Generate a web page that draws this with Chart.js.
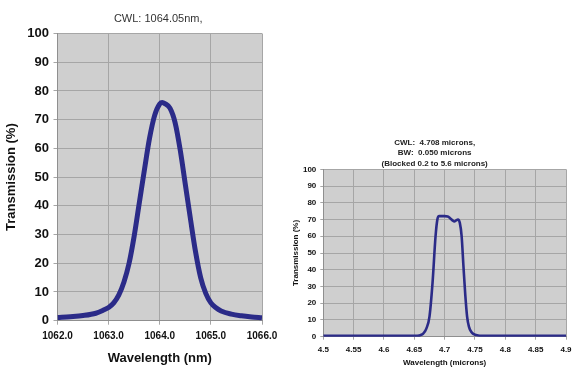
<!DOCTYPE html>
<html><head><meta charset="utf-8">
<script src="https://cdn.jsdelivr.net/npm/chart.js@4/dist/chart.umd.min.js"></script>
<style>
html,body{margin:0;padding:0;background:#fff;width:583px;height:382px;overflow:hidden;}
.box{position:absolute;}
</style></head><body>
<div class="box" style="left:0;top:0;width:290px;height:382px;"><canvas id="c1"></canvas></div>
<div class="box" style="left:290px;top:120px;width:293px;height:262px;"><canvas id="c2"></canvas></div>
<script>
// ---- Left chart data (1064 nm filter) ----
const leftTitle = ["CWL: 1064.05nm,"];
const leftWavelength = [1062.0,1062.25,1062.5,1062.75,1062.9,1063.0,1063.1,1063.2,1063.3,1063.4,1063.5,1063.6,1063.7,1063.8,1063.9,1064.0,1064.05,1064.1,1064.2,1064.3,1064.4,1064.5,1064.6,1064.7,1064.8,1064.9,1065.0,1065.1,1065.2,1065.4,1065.6,1065.8,1066.0];
const leftTransmission = [1.1,1.4,1.8,2.6,3.7,4.6,6.2,9.0,13.5,20.0,29.5,41.0,52.5,63.5,71.5,75.5,76.0,75.6,74.0,69.0,59.5,47.5,35.5,24.0,15.0,9.5,6.2,4.5,3.4,2.3,1.7,1.3,1.0];
const leftXTicks = [1062,1063,1064,1065,1066];

// ---- Right chart data (4.708 micron filter) ----
const rightTitle = ["CWL:  4.708 microns,", "BW:  0.050 microns", "(Blocked 0.2 to 5.6 microns)"];
const rightWavelength = [4.50,4.55,4.60,4.64,4.655,4.660,4.665,4.670,4.675,4.680,4.685,4.688,4.691,4.695,4.700,4.705,4.709,4.713,4.716,4.719,4.722,4.725,4.728,4.731,4.734,4.737,4.740,4.744,4.748,4.752,4.758,4.77,4.80,4.85,4.90];
const rightTransmission = [0.5,0.5,0.5,0.5,0.6,0.9,2.0,5.0,12.0,32.0,60.0,70.0,72.0,72.0,72.0,71.8,70.8,69.5,68.8,69.5,70.0,68.0,60.0,42.0,25.0,12.0,6.0,2.8,1.5,1.0,0.6,0.5,0.5,0.5,0.5];
const rightXTicks = [4.5,4.55,4.6,4.65,4.7,4.75,4.8,4.85,4.9];

const F = "'Liberation Sans', Arial, sans-serif";
const PLOT_BG = '#cfcfcf';
const GRID = '#a6a6a6';
const LINE = '#2b2b88';

const bgPlugin = {
  id: 'plotBg',
  beforeDraw(chart) {
    const {ctx, chartArea: a} = chart;
    ctx.save(); ctx.fillStyle = PLOT_BG;
    ctx.fillRect(a.left, a.top, a.right - a.left, a.bottom - a.top);
    ctx.restore();
  },
  afterDraw(chart, args, opts) {
    const {ctx, chartArea: a} = chart;
    ctx.save();
    ctx.font = opts.font; ctx.fillStyle = opts.color;
    ctx.textAlign = 'center'; ctx.textBaseline = 'middle';
    const x = (a.left + a.right) / 2 + opts.dx;
    opts.lines.forEach((t, i) => ctx.fillText(t, x, opts.y + i * opts.lh));
    ctx.restore();
  }
};

function makeChart(id, cfg) {
  return new Chart(document.getElementById(id), {
    type: 'line',
    data: { datasets: [{
      data: cfg.x.map((v, i) => ({x: v, y: cfg.y[i]})),
      borderColor: LINE, borderWidth: cfg.lw, pointRadius: 0,
      tension: 0.4, cubicInterpolationMode: 'monotone', fill: false
    }]},
    options: {
      responsive: true, maintainAspectRatio: false, animation: false,
      layout: { padding: cfg.pad },
      plugins: { legend: {display: false}, tooltip: {enabled: false}, title: {display: false},
        plotBg: { lines: cfg.title, font: cfg.titleFont, color: cfg.titleColor, y: cfg.titleY, lh: cfg.titleLH, dx: cfg.titleDx } },
      scales: {
        x: {
          type: 'linear', min: cfg.xmin, max: cfg.xmax,
          afterBuildTicks: s => { s.ticks = cfg.xticks.map(v => ({value: v})); },
          afterFit: s => { s.height = cfg.xh; },
          ticks: { font: {family: F, size: cfg.xtSize, weight: 'bold'}, color: '#111', padding: cfg.xtPad,
                   maxRotation: 0, autoSkip: false, callback: v => cfg.xfmt(v) },
          grid: { color: GRID, lineWidth: 1, tickLength: cfg.tick, drawTicks: true },
          border: { color: '#8f8f8f', width: 1 },
          title: { display: true, text: cfg.xtitle, font: {family: F, size: cfg.xTitleSize, weight: 'bold'}, color: '#111', padding: {top: 0, bottom: cfg.xTitlePadB} }
        },
        y: {
          min: 0, max: 100,
          ticks: { stepSize: 10, font: {family: F, size: cfg.ytSize, weight: 'bold'}, color: '#111', padding: cfg.ytPad },
          afterFit: s => { s.width = cfg.yw; },
          grid: { color: GRID, lineWidth: 1, tickLength: cfg.tick },
          border: { color: '#8f8f8f', width: 1 },
          title: { display: true, text: 'Transmission (%)', font: {family: F, size: cfg.yTitleSize, weight: 'bold'}, color: '#111', padding: {top: cfg.yTitlePadT, bottom: 0} }
        }
      }
    },
    plugins: [bgPlugin]
  });
}

makeChart('c1', {
  x: leftWavelength, y: leftTransmission, lw: 5,
  xmin: 1062, xmax: 1066, xticks: leftXTicks, xfmt: v => v.toFixed(1),
  pad: {top: 33.5, right: 28, left: 0, bottom: 0},
  xh: 61.3, yw: 57.5, tick: 4,
  xtSize: 10, xtPad: 6, ytSize: 13, ytPad: 4.5,
  xtitle: 'Wavelength (nm)', xTitleSize: 13, xTitlePadB: 16,
  yTitleSize: 13, yTitlePadT: 4,
  title: leftTitle, titleFont: "11px " + F, titleColor: '#333', titleY: 19, titleLH: 12, titleDx: -1.5
});

makeChart('c2', {
  x: rightWavelength, y: rightTransmission, lw: 2.6,
  xmin: 4.5, xmax: 4.9, xticks: rightXTicks, xfmt: v => String(Math.round(v * 100) / 100),
  pad: {top: 49.3, right: 17, left: 0, bottom: 0},
  xh: 45.3, yw: 33.3, tick: 3,
  xtSize: 8, xtPad: 5, ytSize: 8, ytPad: 4,
  xtitle: 'Wavelength (microns)', xTitleSize: 8, xTitlePadB: 14.5,
  yTitleSize: 8, yTitlePadT: 0.5,
  title: rightTitle, titleFont: "bold 8px " + F, titleColor: '#222', titleY: 22.7, titleLH: 10.5, titleDx: -10
});
</script>
</body></html>
